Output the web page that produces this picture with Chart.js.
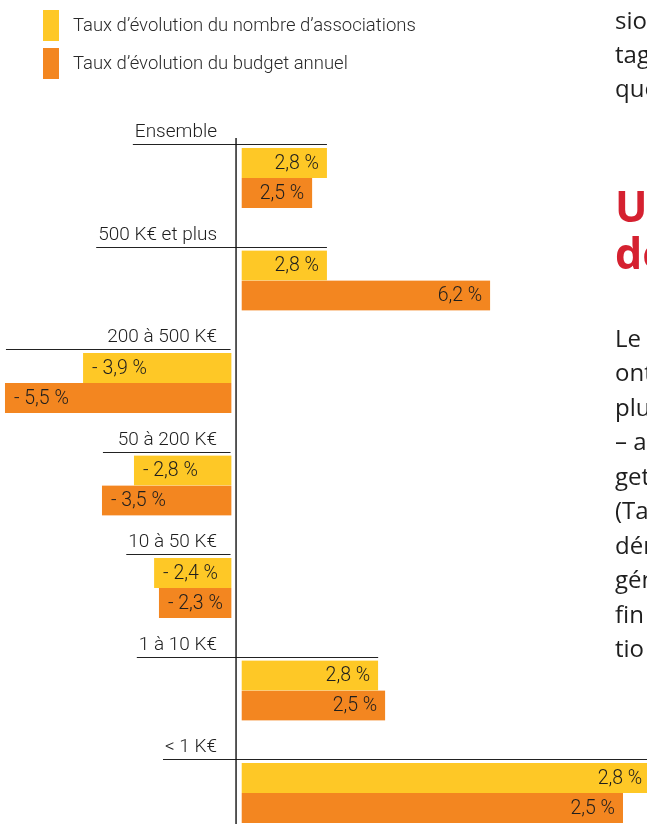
<!DOCTYPE html>
<html><head><meta charset="utf-8">
<script src="https://cdn.jsdelivr.net/npm/chart.js@4/dist/chart.umd.min.js"></script>
<style>
html,body{margin:0;padding:0;width:647px;height:824px;overflow:hidden;background:#fff;}
#wrap{position:relative;width:647px;height:824px;overflow:hidden;}
canvas{position:absolute;left:0;top:0;}
.lg{position:absolute;left:73px;font-family:Roboto,sans-serif;font-weight:300;font-size:18.5px;line-height:24px;color:#2a2a2a;white-space:nowrap;}
.sw{position:absolute;left:43px;width:16px;height:31px;}
.side{position:absolute;left:615px;font-family:"Open Sans",sans-serif;font-size:24px;line-height:30px;color:#1e1e1e;white-space:nowrap;}
.head{position:absolute;left:615px;font-family:"Open Sans",sans-serif;font-weight:700;font-size:43px;line-height:48px;color:#d52130;white-space:nowrap;}
</style></head>
<body><div id="wrap">
<canvas id="c" width="647" height="824"></canvas>
<div class="sw" style="top:10px;background:#FEC826"></div>
<div class="lg" style="top:13px">Taux d’évolution du nombre d’associations</div>
<div class="sw" style="top:48px;background:#F38620"></div>
<div class="lg" style="top:51px">Taux d’évolution du budget annuel</div>
<div class="side" style="top:5px">sio</div>
<div class="side" style="top:39px">tag</div>
<div class="side" style="top:73px">que</div>
<div class="head" style="top:182px">Un</div>
<div class="head" style="top:229px">de</div>
<div class="side" style="top:323px">Le</div>
<div class="side" style="top:357px">ont</div>
<div class="side" style="top:392px">plu</div>
<div class="side" style="top:426px">– a</div>
<div class="side" style="top:461px">get</div>
<div class="side" style="top:495px">(Ta</div>
<div class="side" style="top:530px">dér</div>
<div class="side" style="top:564px">gén</div>
<div class="side" style="top:599px">fin</div>
<div class="side" style="top:633px">tio</div>
</div>
<script>
// Categories (budget classes)
const categories = ["Ensemble", "500 K€ et plus", "200 à 500 K€", "50 à 200 K€", "10 à 50 K€", "1 à 10 K€", "< 1 K€"];
const seriesNames = ["Taux d’évolution du nombre d’associations", "Taux d’évolution du budget annuel"];
// Values printed on the bars (%)
const nombreValues = [2.8, 2.8, -3.9, -2.8, -2.4, 2.8, 2.8];
const budgetValues = [2.5, 6.2, -5.5, -3.5, -2.3, 2.5, 2.5];
// Bar lengths as drawn in the source graphic (same unit for all bars)
const nombreBars = [2.84, 2.84, -4.78, -3.19, -2.56, 4.44, 12.94];
const budgetBars = [2.38, 7.94, -7.22, -4.19, -2.41, 4.66, 12.09];
const xMin = -7.375, xMax = 12.84;
const colors = ["#FEC826", "#F38620"];
const printed = [nombreValues, budgetValues];

function fmt(v){
  const s = Math.abs(v).toFixed(1).replace('.', ',') + ' %';
  return v < 0 ? '- ' + s : s;
}

const LABEL_FONT = '300 19.5px Roboto, sans-serif';
const HEAD_FONT = '300 19px Roboto, sans-serif';

const decor = {
  id: 'decor',
  afterDatasetsDraw(chart){
    const ctx = chart.ctx;
    const xs = chart.scales.x;
    const zero = xs.getPixelForValue(0);
    const m0 = chart.getDatasetMeta(0), m1 = chart.getDatasetMeta(1);
    ctx.save();
    // data labels
    ctx.font = LABEL_FONT;
    ctx.fillStyle = '#1e1e1e';
    ctx.textBaseline = 'middle';
    [m0, m1].forEach((meta, di) => {
      meta.data.forEach((bar, i) => {
        const p = bar.getProps(['x','y','base','height'], true);
        const v = printed[di][i];
        if (p.x >= p.base){
          ctx.textAlign = 'right';
          ctx.fillText(fmt(v), p.x - 8, p.y + 1);
        } else {
          ctx.textAlign = 'left';
          ctx.fillText(fmt(v), p.x + 9, p.y + 1);
        }
      });
    });
    // group headers
    ctx.font = HEAD_FONT;
    ctx.textBaseline = 'alphabetic';
    ctx.textAlign = 'right';
    ctx.strokeStyle = '#222';
    ctx.lineWidth = 1.2;
    let firstTop = null;
    categories.forEach((cat, i) => {
      const a = m0.data[i].getProps(['x','y','base','height'], true);
      const b = m1.data[i].getProps(['x','y','base','height'], true);
      const top = a.y - a.height/2;
      if (firstTop === null) firstTop = top;
      const labelRight = zero - 19;
      ctx.fillText(cat, labelRight, top - 11);
      const labelLeft = labelRight - ctx.measureText(cat).width;
      const positive = a.x >= a.base;
      let left, right;
      if (positive){
        left = labelLeft - 2;
        right = a.x;
      } else {
        left = Math.min(labelLeft - 2, Math.min(a.x, b.x) + 1);
        right = zero - 5.5;
      }
      const ly = Math.round(top - 4) + 0.5;
      ctx.beginPath();
      ctx.moveTo(left, ly);
      ctx.lineTo(right, ly);
      ctx.stroke();
    });
    // vertical axis line
    ctx.strokeStyle = '#111';
    ctx.lineWidth = 1.4;
    ctx.beginPath();
    ctx.moveTo(zero, firstTop - 10);
    ctx.lineTo(zero, chart.height);
    ctx.stroke();
    ctx.restore();
  }
};

const gapBorder = (ctx) => {
  const v = ctx.raw;
  return v >= 0 ? {left: 6, right: 0, top: 0, bottom: 0} : {left: 0, right: 5, top: 0, bottom: 0};
};

new Chart(document.getElementById('c'), {
  type: 'bar',
  data: {
    labels: categories,
    datasets: [
      {label: seriesNames[0], data: nombreBars, backgroundColor: colors[0]},
      {label: seriesNames[1], data: budgetBars, backgroundColor: colors[1]}
    ]
  },
  options: {
    indexAxis: 'y',
    responsive: false,
    animation: false,
    events: [],
    layout: {padding: {top: 178, bottom: 31, left: 0, right: 0}},
    datasets: {bar: {barThickness: 30, clip: false, borderSkipped: false, borderColor: '#fff', borderWidth: gapBorder}},
    scales: {
      y: {type: 'category', offset: false, display: false},
      x: {type: 'linear', min: xMin, max: xMax, display: false}
    },
    plugins: {legend: {display: false}, tooltip: {enabled: false}, title: {display: false}}
  },
  plugins: [decor]
});
</script>
</body></html>
